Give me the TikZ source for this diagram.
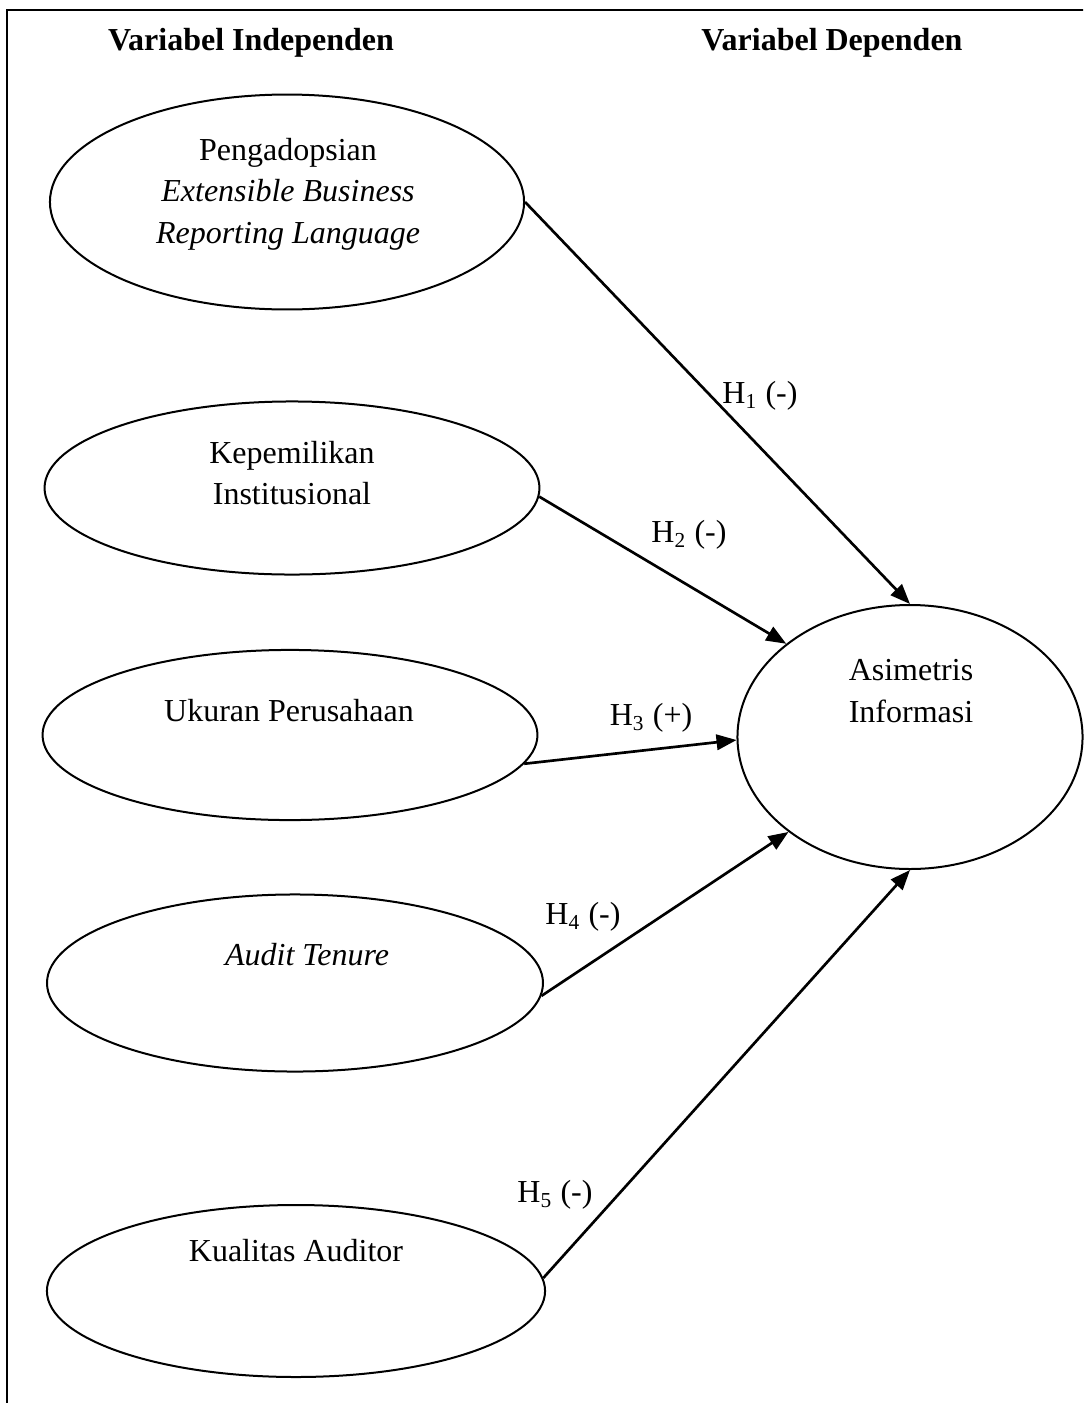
\documentclass[tikz,border=0pt]{standalone}
\usepackage{fontspec}
\setmainfont{Liberation Serif}
\usetikzlibrary{shapes.geometric,arrows.meta}
\begin{document}
\begin{tikzpicture}[x=0.375pt,y=-0.375pt,
  var/.style={ellipse,draw,line width=0.75pt,inner sep=0pt},
  txt/.style={font=\fontsize{12}{15.5}\selectfont,align=center,inner sep=0pt},
  head/.style={font=\fontsize{12}{15.5}\selectfont\bfseries,inner sep=0pt},
  hyp/.style={font=\fontsize{12}{15.5}\selectfont,inner sep=0pt},
  conn/.style={line width=1pt,-{Triangle[length=7.5pt,width=5.8pt]}},
]
\useasboundingbox (0,0) rectangle (1083,1403);
\begin{scope}
\clip (0,0) rectangle (1083,1403);
\draw[line width=1.1pt] (7,1420) -- (7,10) -- (1100,10);
\end{scope}

\node[head] (hi) at (251,43) {Variabel Independen};
\node[head] (hd) at (832,43) {Variabel Dependen};

\node[var,minimum width=177.8pt,minimum height=80.6pt] (e1) at (287,202) {};
\node[var,minimum width=185.6pt,minimum height=64.9pt] (e2) at (292,488) {};
\node[var,minimum width=185.6pt,minimum height=63.8pt] (e3) at (290,735) {};
\node[var,minimum width=186pt,minimum height=66.4pt] (e4) at (295,983) {};
\node[var,minimum width=186.8pt,minimum height=64.5pt] (e5) at (296,1291) {};
\node[var,minimum width=129.4pt,minimum height=99pt] (a) at (910,737) {};

\node[txt] (t1) at (288,194) {Pengadopsian\\\textit{Extensible Business}\\\textit{Reporting Language}};
\node[txt] (t2) at (292,473) {Kepemilikan\\Institusional};
\node[txt] (t3) at (289,711) {Ukuran Perusahaan};
\node[txt] (t4) at (307,955) {\textit{Audit Tenure}};
\node[txt] (t5) at (296,1251) {Kualitas Auditor};
\node[txt] (ta) at (911,691) {Asimetris\\Informasi};

\draw[conn] (e1.east) -- (a.north);
\draw[conn] (e2.-2) -- (a.143);
\draw[conn] (e3.-7) -- (a.181);
\draw[conn] (e4.-3.5) -- (a.218);
\draw[conn] (e5.3.7) -- (a.south);

\node[hyp] (h1) at (760,396) {H\textsubscript{1} (-)};
\node[hyp] (h2) at (689,535) {H\textsubscript{2} (-)};
\node[hyp] (h3) at (651,718) {H\textsubscript{3} (+)};
\node[hyp] (h4) at (583,917) {H\textsubscript{4} (-)};
\node[hyp] (h5) at (555,1195) {H\textsubscript{5} (-)};
\end{tikzpicture}
\end{document}
